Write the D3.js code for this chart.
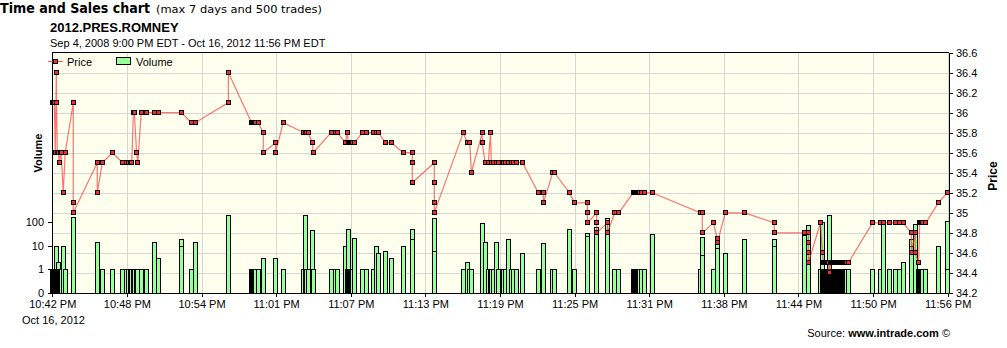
<!DOCTYPE html>
<html>
<head>
<meta charset="utf-8">
<script src="https://cdn.jsdelivr.net/npm/d3@7"></script>
<style>
body { margin: 0; background: #fff; }
svg text { font-family: "Liberation Sans", Arial, sans-serif; font-size: 11px; fill: #000; }
.axis path, .axis line { stroke: #000; shape-rendering: crispEdges; }
</style>
</head>
<body>
<svg id="chart" width="1007" height="348"></svg>
<script>
// trades (time, price, volume)
var tradeTimes = [
"22:42:00","22:42:05","22:42:10","22:42:15","22:42:20","22:42:21","22:42:25","22:42:30","22:42:35","22:42:40",
"22:42:44","22:42:54","22:43:04","22:43:44","22:43:44","22:43:44","22:45:43","22:45:43","22:46:08","22:46:58",
"22:47:48","22:48:07","22:48:17","22:48:27","22:48:34","22:48:42","22:48:47","22:48:58","22:49:04","22:49:21",
"22:49:46","22:50:26","22:50:46","22:52:40","22:52:40","22:53:30","22:53:49","22:56:33","22:56:33","22:58:28",
"22:58:33","22:58:38","22:58:43","22:58:50","22:59:01","22:59:26","22:59:26","23:00:27","23:00:27","23:01:05",
"23:02:48","23:02:54","23:03:00","23:03:09","23:03:29","23:03:34","23:05:02","23:05:23","23:05:33","23:06:13",
"23:06:23","23:06:28","23:06:33","23:06:38","23:06:43","23:06:48","23:06:59","23:07:37","23:07:57","23:08:32",
"23:08:47","23:08:58","23:09:31","23:10:01","23:11:00","23:11:45","23:11:45","23:11:45","23:13:34","23:13:34",
"23:13:34","23:13:34","23:15:58","23:16:18","23:16:30","23:16:38","23:17:32","23:17:32","23:17:46","23:18:02",
"23:18:13","23:18:17","23:18:27","23:18:42","23:18:53","23:19:17","23:19:26","23:19:42","23:19:57","23:20:09",
"23:20:21","23:20:52","23:22:10","23:22:35","23:22:35","23:23:21","23:23:30","23:24:45","23:25:09","23:26:14",
"23:26:14","23:26:14","23:26:59","23:26:59","23:26:59","23:27:53","23:27:53","23:28:29","23:28:49","23:30:00",
"23:30:05","23:30:10","23:30:15","23:30:20","23:30:25","23:30:30","23:30:43","23:30:57","23:31:35","23:35:34",
"23:35:43","23:35:43","23:36:38","23:36:58","23:36:58","23:37:37","23:39:13","23:41:40","23:41:40","23:44:12",
"23:44:29","23:44:29","23:44:29","23:44:29","23:45:29","23:45:39","23:45:44","23:45:49","23:45:54","23:45:59",
"23:46:04","23:46:09","23:46:13","23:46:19","23:46:24","23:46:29","23:46:34","23:46:39","23:46:44","23:46:49",
"23:46:54","23:46:59","23:47:04","23:47:09","23:47:14","23:47:19","23:47:24","23:47:29","23:47:34","23:47:39",
"23:47:47","23:49:47","23:50:27","23:50:42","23:51:11","23:51:41","23:52:03","23:52:19","23:53:00","23:53:00",
"23:53:19","23:53:19","23:53:36","23:53:41","23:53:46","23:53:51","23:53:56","23:54:12","23:55:13","23:55:58",
"23:55:58"
];

var tradePrices = [
36.1,36.1,36.1,35.6,36.4,36.1,35.6,35.6,35.5,35.6,
35.6,35.2,35.6,36.1,35.1,35.0,35.5,35.2,35.5,35.6,
35.5,35.5,35.5,35.5,35.5,36.0,36.0,35.6,35.5,36.0,
36.0,36.0,36.0,36.0,36.0,35.9,35.9,36.1,36.4,35.9,
35.9,35.9,35.9,35.9,35.9,35.8,35.6,35.7,35.6,35.9,
35.8,35.8,35.8,35.8,35.7,35.6,35.8,35.8,35.8,35.7,
35.8,35.7,35.7,35.7,35.7,35.7,35.7,35.8,35.8,35.8,
35.8,35.8,35.7,35.7,35.6,35.6,35.5,35.3,35.5,35.3,
35.1,35.0,35.8,35.7,35.7,35.4,35.8,35.7,35.5,35.5,
35.8,35.5,35.5,35.5,35.5,35.5,35.5,35.5,35.5,35.5,
35.5,35.5,35.2,35.2,35.1,35.4,35.4,35.2,35.1,35.1,
35.0,34.9,35.0,34.9,34.8,34.9,34.8,35.0,35.0,35.2,
35.2,35.2,35.2,35.2,35.2,35.2,35.2,35.2,35.2,35.0,
35.0,34.8,34.9,34.74,34.7,35.0,35.0,34.9,34.8,34.8,
34.8,34.7,34.6,34.5,34.9,34.6,34.5,34.5,34.5,34.5,
34.5,34.5,34.4,34.5,34.5,34.5,34.5,34.5,34.5,34.5,
34.5,34.5,34.5,34.5,34.5,34.5,34.5,34.5,34.5,34.5,
34.5,34.9,34.9,34.9,34.9,34.9,34.9,34.9,34.8,34.6,
34.8,34.6,34.5,34.9,34.9,34.9,34.9,34.9,35.1,35.2,
35.2
];

var tradeVolumes = [
1,1,1,1,10,1,1,2,1,1,
1,10,1,1,1,160,1,15,1,1,
1,1,1,1,1,1,1,1,1,1,
1,15,3,19,10,1,15,1,200,1,
1,1,1,1,1,1,3,1,3,1,
1,200,1,1,46,1,1,1,1,10,
1,50,1,1,1,1,21,1,1,1,
10,5,6,3,10,1,50,19,1,1,
150,6,1,2,1,1,1,90,15,1,
1,1,1,15,1,1,1,19,1,1,
1,5,1,1,13,1,1,50,1,1,
34,27,1,1,60,150,100,1,1,1,
1,1,1,1,1,1,1,1,31,1,
23,4,1,20,8,5,19,19,10,30,
1,1,1,75,1,100,1,1,1,1,
1,1,200,1,1,1,1,1,1,1,
1,1,1,1,1,1,1,1,1,1,
1,1,1,85,1,1,1,2,19,10,
1,85,1,1,1,1,1,1,10,110,
1
];

var startTime = "22:42:00", endTime = "23:56:00";
var timeTickLabels = ["10:42 PM","10:48 PM","10:54 PM","11:01 PM","11:07 PM","11:13 PM","11:19 PM",
                      "11:25 PM","11:31 PM","11:38 PM","11:44 PM","11:50 PM","11:56 PM"];
var priceTicks = [34.2, 34.4, 34.6, 34.8, 35, 35.2, 35.4, 35.6, 35.8, 36, 36.2, 36.4, 36.6];
var priceTickLabels = ["34.2","34.4","34.6","34.8","35","35.2","35.4","35.6","35.8","36","36.2","36.4","36.6"];
var volumeTicks = [0.1, 1, 10, 100];
var volumeTickLabels = ["0", "1", "10", "100"];

var plotLeft = 52, plotRight = 949, plotTop = 52.5, plotBottom = 293;

var parseTime = d3.timeParse("%H:%M:%S");
var trades = tradeTimes.map(function (t, i) {
    return { time: parseTime(t), price: tradePrices[i], volume: tradeVolumes[i] };
});

var t0 = parseTime(startTime), t1 = parseTime(endTime);
var x = d3.scaleTime().domain([t0, t1]).range([52.3, 947.7]);
var y = d3.scaleLinear().domain([34.2, 36.6]).range([plotBottom, plotTop]);
var vy = d3.scaleLog().domain([0.1, 1000]).range([plotBottom, plotBottom - 4 * 23.6]);

var timeTicks = timeTickLabels.map(function (d, i) {
    return new Date(+t0 + i * (t1 - t0) / (timeTickLabels.length - 1));
});

var svg = d3.select("#chart");

// titles
svg.append("text").attr("x", 0).attr("y", 13)
    .attr("textLength", 150).attr("lengthAdjust", "spacingAndGlyphs")
    .style("font-family", "'DejaVu Sans', Verdana, sans-serif")
    .style("font-weight", "bold").style("font-size", "13.5px")
    .text("Time and Sales chart");
svg.append("text").attr("x", 156).attr("y", 13)
    .attr("textLength", 166).attr("lengthAdjust", "spacingAndGlyphs")
    .style("font-family", "'DejaVu Sans', Verdana, sans-serif")
    .style("font-size", "11px")
    .text("(max 7 days and 500 trades)");

svg.append("text").attr("x", 50).attr("y", 32)
    .style("font-weight", "bold").style("font-size", "13px")
    .text("2012.PRES.ROMNEY");
svg.append("text").attr("x", 50).attr("y", 47)
    .text("Sep 4, 2008 9:00 PM EDT - Oct 16, 2012 11:56 PM EDT");

// plot background + grid
svg.append("rect")
    .attr("x", plotLeft).attr("y", plotTop)
    .attr("width", plotRight - plotLeft).attr("height", plotBottom - plotTop)
    .style("fill", "#ffffee");

svg.append("g").selectAll("line.hgrid")
    .data(priceTicks.slice(1, -1))
    .enter().append("line")
    .attr("x1", plotLeft).attr("x2", plotRight)
    .attr("y1", function (d) { return Math.round(y(d)) + 0.5; })
    .attr("y2", function (d) { return Math.round(y(d)) + 0.5; })
    .style("stroke", "#d6d6d6");

svg.append("g").selectAll("line.vgrid")
    .data(timeTicks.slice(1))
    .enter().append("line")
    .attr("x1", function (d) { return Math.round(x(d)) + 0.5; })
    .attr("x2", function (d) { return Math.round(x(d)) + 0.5; })
    .attr("y1", plotTop).attr("y2", plotBottom)
    .style("stroke", "#d6d6d6");

// volume bars
var barWidth = 4;
svg.append("g").selectAll("rect.vol")
    .data(trades)
    .enter().append("rect")
    .attr("class", "vol")
    .attr("x", function (d) { return Math.round(x(d.time) - 2.5) + 0.5; })
    .attr("y", function (d) { return Math.round(vy(d.volume)) + 0.5; })
    .attr("width", barWidth)
    .attr("height", function (d) { return plotBottom - Math.round(vy(d.volume)) - 0.5; })
    .style("fill", "#99ff99")
    .style("stroke", "#000")
    .style("stroke-width", 1)
    .style("shape-rendering", "crispEdges");

// price line
var priceLine = d3.line()
    .x(function (d) { return x(d.time); })
    .y(function (d) { return y(d.price); });

svg.append("path")
    .datum(trades)
    .attr("d", priceLine)
    .style("fill", "none")
    .style("stroke", "#ff2a2a")
    .style("stroke-opacity", 0.65)
    .style("stroke-width", 1.2);

var mk = 4;
svg.append("g").selectAll("rect.pt")
    .data(trades)
    .enter().append("rect")
    .attr("x", function (d) { return Math.round(x(d.time) - 2.5) + 0.5; })
    .attr("y", function (d) { return Math.round(y(d.price) - 2.5) + 0.5; })
    .attr("width", mk).attr("height", mk)
    .style("fill", "#f52a2a")
    .style("stroke", "#000")
    .style("stroke-width", 1)
    .style("shape-rendering", "crispEdges");

// frame top
svg.append("line")
    .attr("x1", plotLeft).attr("x2", plotRight)
    .attr("y1", 52.5).attr("y2", 52.5)
    .style("stroke", "#000");

// axes
svg.append("g").attr("class", "axis")
    .attr("transform", "translate(0," + plotBottom + ")")
    .call(d3.axisBottom(x).tickValues(timeTicks).tickSize(4).tickSizeOuter(0)
        .tickFormat(function (d, i) { return timeTickLabels[i]; }))
    .call(function (g) { g.select(".domain").attr("d", "M" + plotLeft + ",0.5H" + plotRight); })
    .selectAll("text").style("font-size", "11px").style("font-family", "'Liberation Sans', Arial, sans-serif");

svg.append("g").attr("class", "axis")
    .attr("transform", "translate(" + plotRight + ",0)")
    .call(d3.axisRight(y).tickValues(priceTicks).tickSize(4).tickSizeOuter(0)
        .tickFormat(function (d, i) { return priceTickLabels[i]; }))
    .selectAll("text").style("font-size", "11px").style("font-family", "'Liberation Sans', Arial, sans-serif");

svg.append("g").attr("class", "axis")
    .attr("transform", "translate(" + plotLeft + ",0)")
    .call(d3.axisLeft(vy).tickValues(volumeTicks).tickSize(4).tickPadding(4)
        .tickFormat(function (d, i) { return volumeTickLabels[i]; }))
    .call(function (g) { g.select(".domain").attr("d", "M0.5," + plotTop + "V" + plotBottom); })
    .selectAll("text").style("font-size", "11px").style("font-family", "'Liberation Sans', Arial, sans-serif");

// axis titles
svg.append("text")
    .attr("transform", "translate(42,153) rotate(-90)")
    .attr("text-anchor", "middle")
    .style("font-weight", "bold")
    .text("Volume");
svg.append("text")
    .attr("transform", "translate(997,176) rotate(-90)")
    .attr("text-anchor", "middle")
    .style("font-weight", "bold").style("font-size", "12px")
    .text("Price");

svg.append("text").attr("x", 22).attr("y", 324).text("Oct 16, 2012");

var src = svg.append("text").attr("x", 950).attr("y", 337).attr("text-anchor", "end");
src.append("tspan").text("Source: ");
src.append("tspan").style("font-weight", "bold").text("www.intrade.com");
src.append("tspan").text(" \u00a9");

// legend
var legend = svg.append("g");
legend.append("line")
    .attr("x1", 48).attr("x2", 63).attr("y1", 61.5).attr("y2", 61.5)
    .style("stroke", "#ff2a2a").style("stroke-opacity", 0.8);
legend.append("rect")
    .attr("x", 53.5).attr("y", 59.5).attr("width", mk).attr("height", mk)
    .style("fill", "#f52a2a").style("stroke", "#000")
    .style("shape-rendering", "crispEdges");
legend.append("text").attr("x", 67).attr("y", 65.5).text("Price");
legend.append("rect")
    .attr("x", 116.5).attr("y", 57.5).attr("width", 14).attr("height", 7)
    .style("fill", "#99ff99").style("stroke", "#000")
    .style("shape-rendering", "crispEdges");
legend.append("text").attr("x", 136).attr("y", 65.5).text("Volume");
</script>
</body>
</html>
